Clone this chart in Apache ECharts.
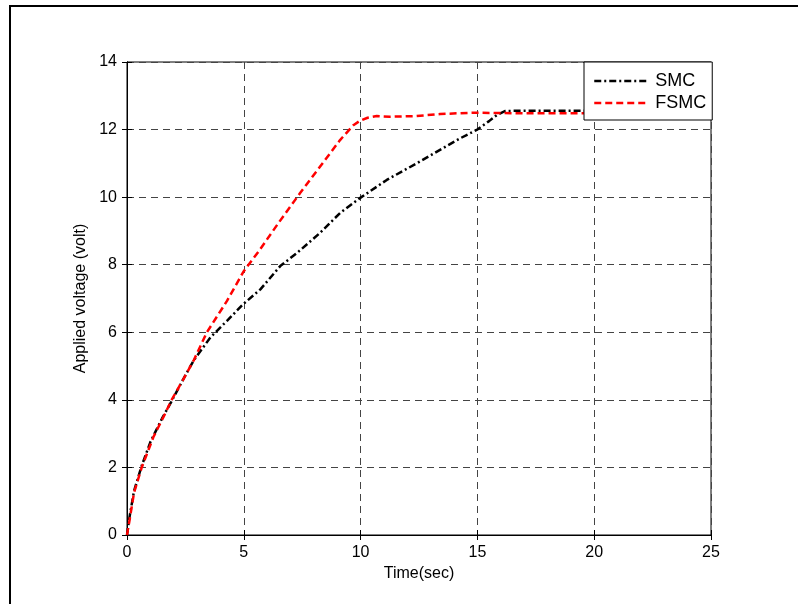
<!DOCTYPE html>
<html>
<head>
<meta charset="utf-8">
<script src="https://cdn.jsdelivr.net/npm/echarts@6/dist/echarts.min.js"></script>
<style>html,body{margin:0;padding:0;background:#fff}#c{width:798px;height:604px}</style>
</head>
<body>
<div id="c"></div>
<script>
const smcTime = [0, 0.1, 0.3, 0.63, 1.0, 1.5, 1.9, 2.4, 2.85, 3.57, 4.28, 4.97, 5.71, 6.56, 7.28, 8.26, 9.12, 9.97, 11.12, 12.4, 13.4, 14.26, 14.97, 15.5, 15.83, 16.2, 17, 20, 25];
const smcVolt = [0, 0.5, 1.3, 2.05, 2.75, 3.45, 3.95, 4.6, 5.16, 5.85, 6.34, 6.83, 7.27, 7.96, 8.35, 8.94, 9.53, 9.97, 10.51, 11.0, 11.4, 11.74, 11.99, 12.25, 12.43, 12.55, 12.56, 12.56, 12.56];
const fsmcTime = [0, 0.1, 0.3, 0.63, 1.13, 1.63, 1.91, 2.38, 2.85, 3.42, 4.28, 5.0, 5.64, 6.5, 7.41, 8.26, 9.12, 9.69, 9.97, 10.3, 10.69, 11.26, 12.4, 13.4, 14.8, 17, 20, 25];
const fsmcVolt = [0, 0.4, 1.25, 2.0, 2.9, 3.59, 4.0, 4.57, 5.16, 6.0, 6.93, 7.81, 8.4, 9.25, 10.12, 10.9, 11.69, 12.13, 12.26, 12.35, 12.4, 12.38, 12.4, 12.46, 12.5, 12.48, 12.48, 12.48];
const seriesNames = ['SMC', 'FSMC'];
const xLabel = 'Time(sec)';
const yLabel = 'Applied voltage (volt)';

const font = 'Liberation Sans, Arial, Helvetica, sans-serif';
const zip = (a, b) => a.map((t, i) => [t, b[i]]);

const chart = echarts.init(document.getElementById('c'), null, {renderer: 'canvas'});
chart.setOption({
  animation: false,
  backgroundColor: '#fff',
  grid: {left: 127, right: 87, top: 62, bottom: 69, show: true, borderColor: '#000', borderWidth: 1},
  graphic: [{
    type: 'rect', silent: true, z: 100,
    shape: {x: 10, y: 6, width: 900, height: 700},
    style: {fill: 'none', stroke: '#000', lineWidth: 2}
  }],
  legend: {
    left: 584, top: 62, z: 20,
    orient: 'vertical',
    backgroundColor: '#fff',
    borderColor: '#000', borderWidth: 1,
    padding: [10, 6, 8, 9],
    itemWidth: 55, itemHeight: 14, itemGap: 4,
    itemStyle: {opacity: 0},
    lineStyle: {width: 2.5},
    textStyle: {fontFamily: font, fontSize: 18, color: '#000', padding: [0, 0, 0, 1]},
    data: seriesNames
  },
  xAxis: [{
    type: 'value', min: 0, max: 25, interval: 5, position: 'bottom',
    name: xLabel, nameLocation: 'middle', nameGap: 31,
    nameTextStyle: {fontFamily: font, fontSize: 16, color: '#000'},
    axisLine: {show: true, lineStyle: {color: '#000', width: 1}},
    axisTick: {show: true, inside: true, length: 5, lineStyle: {color: '#000'}},
    axisLabel: {fontFamily: font, fontSize: 16, color: '#000', margin: 10},
    splitLine: {show: true, lineStyle: {color: '#444', type: [7, 5], width: 1}}
  }, {
    type: 'value', min: 0, max: 25, interval: 5, position: 'top',
    axisLine: {show: true, lineStyle: {color: '#000'}},
    axisTick: {show: true, inside: true, length: 5, lineStyle: {color: '#000'}},
    axisLabel: {show: false}, splitLine: {show: false}
  }],
  yAxis: [{
    type: 'value', min: 0, max: 14, interval: 2, position: 'left',
    name: yLabel, nameLocation: 'middle', nameGap: 34, nameRotate: 90,
    nameTextStyle: {fontFamily: font, fontSize: 16, color: '#000'},
    axisLine: {show: true, lineStyle: {color: '#000', width: 1}},
    axisTick: {show: true, inside: true, length: 5, lineStyle: {color: '#000'}},
    axisLabel: {fontFamily: font, fontSize: 16, color: '#000', margin: 10},
    splitLine: {show: true, lineStyle: {color: '#444', type: [7, 5], width: 1}}
  }, {
    type: 'value', min: 0, max: 14, interval: 2, position: 'right',
    axisLine: {show: true, lineStyle: {color: '#000'}},
    axisTick: {show: true, inside: true, length: 5, lineStyle: {color: '#000'}},
    axisLabel: {show: false}, splitLine: {show: false}
  }],
  series: [{
    name: seriesNames[0], type: 'line', xAxisIndex: 0, yAxisIndex: 0,
    data: zip(smcTime, smcVolt), showSymbol: false, symbol: 'none',
    itemStyle: {color: '#000'},
    lineStyle: {color: '#000', width: 2.5, type: [7, 3, 2, 3]},
    z: 3
  }, {
    name: seriesNames[1], type: 'line', xAxisIndex: 0, yAxisIndex: 0,
    data: zip(fsmcTime, fsmcVolt), showSymbol: false, symbol: 'none',
    itemStyle: {color: '#ff0000'},
    lineStyle: {color: '#ff0000', width: 2.5, type: [7, 4]},
    z: 4
  }]
});
</script>
</body>
</html>
